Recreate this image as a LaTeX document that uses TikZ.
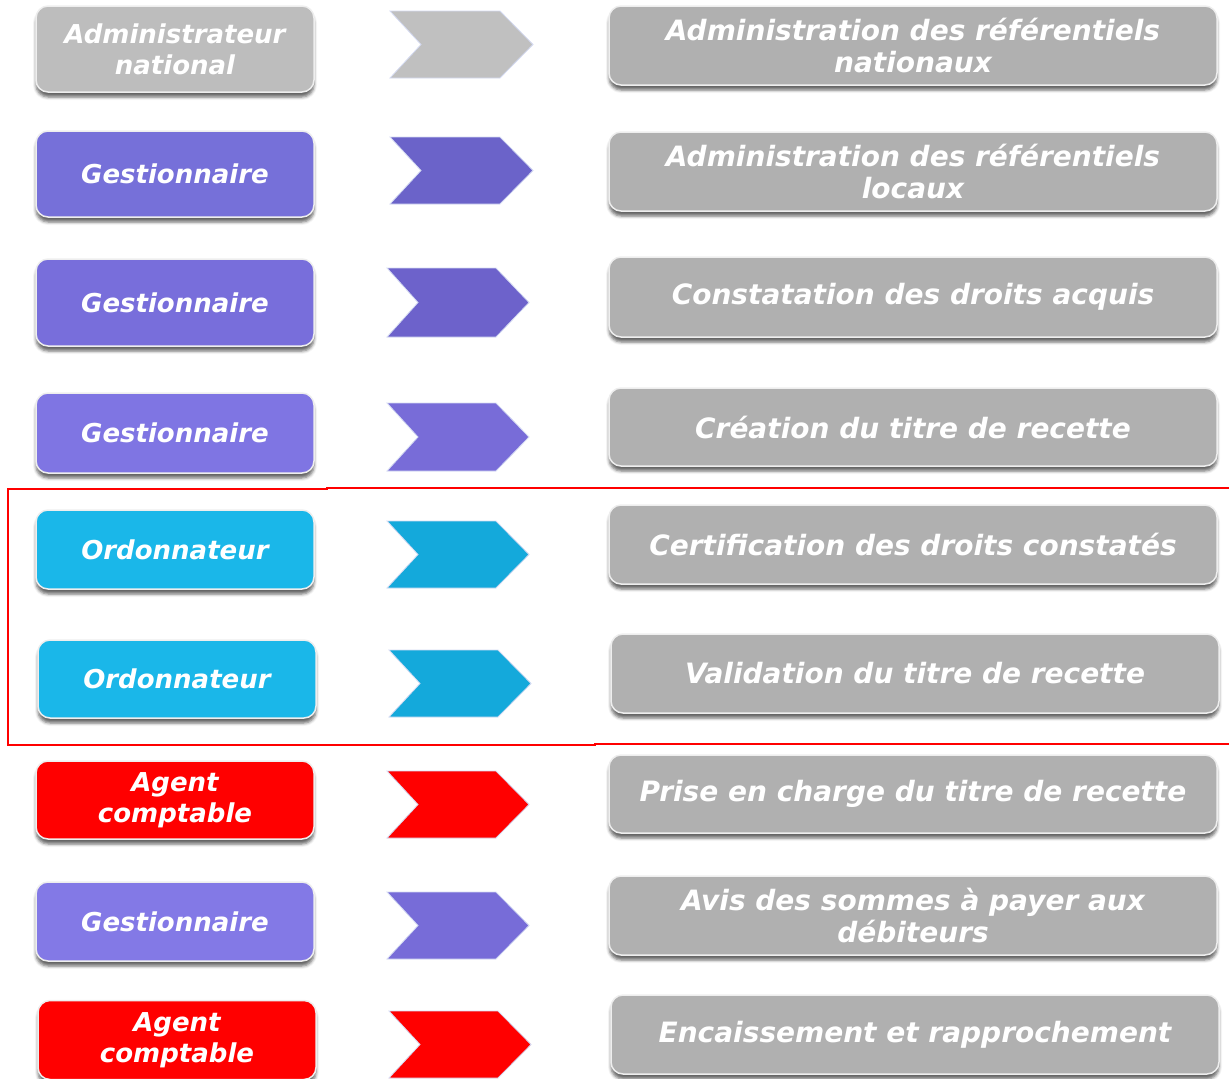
\documentclass[tikz,border=0pt]{standalone}
\usepackage{fontspec}
\setmainfont{DejaVu Sans}
\usetikzlibrary{shadows.blur}
\definecolor{grayL}{HTML}{BDBDBD}
\definecolor{grayC}{HTML}{C0C0C0}
\definecolor{grayR}{HTML}{B0B0B0}
\definecolor{gesA}{HTML}{7670D9}
\definecolor{gesAc}{HTML}{6B63C9}
\definecolor{gesB}{HTML}{786EDB}
\definecolor{gesBc}{HTML}{6D62CB}
\definecolor{gesC}{HTML}{7F75E3}
\definecolor{gesCc}{HTML}{786CD8}
\definecolor{gesD}{HTML}{8379E6}
\definecolor{gesDc}{HTML}{776CD8}
\definecolor{ordo}{HTML}{1AB7E9}
\definecolor{ordoc}{HTML}{14A9DB}
\definecolor{agent}{HTML}{FF0000}
\definecolor{chevedge}{HTML}{D4DAF2}
\definecolor{boxedge}{HTML}{EEEEEE}
\newcommand{\chevron}[5]{%
  \fill[#5, draw=chevedge, line width=0.8]
    (#1,#3) -- ({#2-33},#3) -- (#2,{(#3+#4)/2}) -- ({#2-33},#4)
    -- (#1,#4) -- ({#1+31},{(#3+#4)/2}) -- cycle;}
\tikzset{
  basebox/.style={rounded corners=12pt, draw=boxedge, line width=1.5pt,
    text=white, align=center, inner sep=0pt,
    blur shadow={shadow xshift=0pt, shadow yshift=-5pt, shadow blur radius=3pt, shadow opacity=60}},
  lbox/.style={basebox, minimum width=278pt,
    font=\bfseries\itshape\fontsize{26}{31}\selectfont},
  rbox/.style={basebox, fill=grayR, minimum width=608pt,
    font=\bfseries\itshape\fontsize{28}{32}\selectfont},
}
\begin{document}
\begin{tikzpicture}[x=1pt,y=-1pt]
\useasboundingbox (0,0) rectangle (1229,1079);
% left boxes
\node[lbox, fill=grayL, minimum height=86pt] (L1) at (175,49) {Administrateur\\national};
\node[lbox, fill=gesA, minimum height=86pt] (L2) at (175,174) {Gestionnaire};
\node[lbox, fill=gesB, minimum height=87pt] (L3) at (175,302.5) {Gestionnaire};
\node[lbox, fill=gesC, minimum height=80pt] (L4) at (175,433) {Gestionnaire};
\node[lbox, fill=ordo, minimum height=79pt] (L5) at (175,549.5) {Ordonnateur};
\node[lbox, fill=ordo, minimum height=78pt] (L6) at (177,679) {Ordonnateur};
\node[lbox, fill=agent, minimum height=78pt] (L7) at (175,800) {Agent\\comptable};
\node[lbox, fill=gesD, minimum height=79pt] (L8) at (175,921.5) {Gestionnaire};
\node[lbox, fill=agent, minimum height=79pt] (L9) at (177,1040) {Agent\\comptable};
% chevrons
\chevron{390}{533}{11}{78}{grayC}
\chevron{390}{533}{137}{204}{gesAc}
\chevron{387}{529}{268}{337}{gesBc}
\chevron{387}{529}{403}{471}{gesCc}
\chevron{387}{529}{521}{588}{ordoc}
\chevron{389}{531}{650}{717}{ordoc}
\chevron{387}{529}{771}{838}{agent}
\chevron{387}{529}{892}{959}{gesDc}
\chevron{389}{531}{1011}{1078}{agent}
% right boxes
\node[rbox, minimum height=79pt] (R1) at (913,45.5) {Administration des référentiels\\nationaux};
\node[rbox, minimum height=79pt] (R2) at (913,171.5) {Administration des référentiels\\locaux};
\node[rbox, minimum height=80pt] (R3) at (913,297) {Constatation des droits acquis};
\node[rbox, minimum height=78pt] (R4) at (913,427) {Création du titre de recette};
\node[rbox, minimum height=79pt] (R5) at (913,544.5) {Certification des droits constatés};
\node[rbox, minimum height=79pt] (R6) at (915,673.5) {Validation du titre de recette};
\node[rbox, minimum height=78pt] (R7) at (913,794) {Prise en charge du titre de recette};
\node[rbox, minimum height=79pt] (R8) at (913,915.5) {Avis des sommes à payer aux\\débiteurs};
\node[rbox, minimum height=79pt] (R9) at (915,1034.5) {Encaissement et rapprochement};
% red frame
\draw[agent, line width=2.2pt] (1235,488) -- (327,488) -- (327,489) -- (8,489)
  -- (8,745) -- (595,745) -- (595,744) -- (1235,744);
\end{tikzpicture}
\end{document}
